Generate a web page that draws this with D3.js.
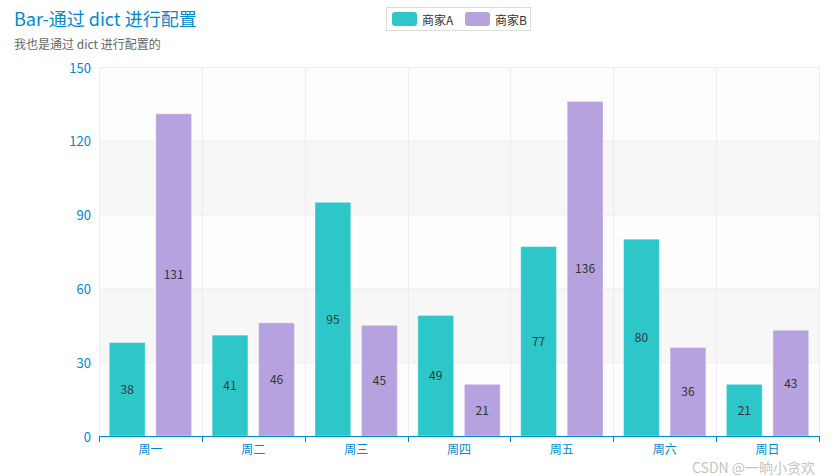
<!DOCTYPE html>
<html><head><meta charset="utf-8">
<script src="https://cdn.jsdelivr.net/npm/d3@7/dist/d3.min.js"></script>
<style>body{margin:0;background:#fff}svg{display:block}</style>
</head><body>
<svg id="c" width="835" height="476"></svg>
<script>
const categories = ["周一","周二","周三","周四","周五","周六","周日"];
const seriesNames = ["商家A","商家B"];
const valuesA = [38,41,95,49,77,80,21];
const valuesB = [131,46,45,21,136,36,43];
const yTicks = [0,30,60,90,120,150];
const colors = ["#2ec7c9","#b6a2de"];
const titleText = "Bar-通过 dict 进行配置";
const subtitleText = "我也是通过 dict 进行配置的";
const watermark = "CSDN @一晌小贪欢";

const font = "'Noto Sans CJK SC','Microsoft YaHei',sans-serif";
const svg = d3.select("#c").style("font-family", font);
const W = 835, H = 476;
const m = {l:99, r:16, t:67, b:40};
const x0 = d3.scaleBand().domain(categories).range([m.l, W - m.r]);
const y = d3.scaleLinear().domain([0,150]).range([H - m.b, m.t]);

// split areas
const bands = d3.pairs(yTicks);
svg.append("g").selectAll("rect").data(bands).join("rect")
  .attr("x", m.l).attr("width", W - m.r - m.l)
  .attr("y", d => y(d[1])).attr("height", d => y(d[0]) - y(d[1]))
  .attr("fill", (d,i) => i % 2 ? "rgba(200,200,200,0.15)" : "rgba(250,250,250,0.3)");

// horizontal grid
svg.append("g").selectAll("line").data(yTicks.slice(1)).join("line")
  .attr("x1", m.l).attr("x2", W - m.r)
  .attr("y1", d => y(d)+0.5).attr("y2", d => y(d)+0.5)
  .attr("stroke", "#eee");
// vertical grid
const bounds = categories.map(c => x0(c)).concat([W - m.r]);
svg.append("g").selectAll("line").data(bounds).join("line")
  .attr("x1", d => Math.round(d)+0.5).attr("x2", d => Math.round(d)+0.5)
  .attr("y1", m.t).attr("y2", H - m.b)
  .attr("stroke", "#eee");

// bars
const inner = x0.bandwidth()*0.8;
const off = x0.bandwidth()*0.1;
const x1 = d3.scaleBand().domain(seriesNames).range([off, off + inner]).paddingInner(0.3/1.3).paddingOuter(0);
const data = categories.map((c,i) => ({c, vals:[valuesA[i], valuesB[i]]}));
const g = svg.append("g");
data.forEach(d => {
  d.vals.forEach((v,j) => {
    const bx = x0(d.c) + x1(seriesNames[j]);
    g.append("rect").attr("x", bx).attr("width", x1.bandwidth())
      .attr("y", y(v)).attr("height", y(0) - y(v))
      .attr("fill", colors[j]).attr("stroke", "rgba(255,255,255,0.35)").attr("stroke-width", 1);
    g.append("text").attr("x", bx + x1.bandwidth()/2).attr("y", (y(v)+y(0))/2 - 1)
      .attr("text-anchor","middle").attr("dominant-baseline","central")
      .attr("font-size", 12).attr("fill", "#333").text(v);
  });
});

// x axis
const xa = svg.append("g").attr("transform", `translate(0,${y(0)})`);
xa.append("line").attr("x1", m.l).attr("x2", W - m.r).attr("y1",0.5).attr("y2",0.5).attr("stroke","#008acd");
xa.selectAll("line.t").data(bounds).join("line").attr("class","t")
  .attr("x1", d => Math.round(d)+0.5).attr("x2", d => Math.round(d)+0.5)
  .attr("y1",0).attr("y2",6).attr("stroke","#008acd");
xa.selectAll("text").data(categories).join("text")
  .attr("x", d => x0(d) + x0.bandwidth()/2).attr("y", 18)
  .attr("text-anchor","middle").attr("font-size",12).attr("fill","#008acd").text(d => d);

// y axis labels
svg.append("g").selectAll("text").data(yTicks).join("text")
  .attr("x", m.l - 8).attr("y", d => y(d)).attr("dominant-baseline","central")
  .attr("text-anchor","end").attr("font-size",13).attr("fill","#008acd").text(d => d);

// title
svg.append("text").attr("x", 14).attr("y", 26).attr("font-size", 18).attr("fill","#008acd").text(titleText);
svg.append("text").attr("x", 14).attr("y", 49).attr("font-size", 12).attr("fill","#666").text(subtitleText);

// legend
const lg = svg.append("g");
lg.append("rect").attr("x", 386.5).attr("y", 7.5).attr("width", 144).attr("height", 23)
  .attr("fill","none").attr("stroke","#ddd");
const lx = [392, 465];
seriesNames.forEach((n,i) => {
  lg.append("rect").attr("x", lx[i]).attr("y", 12).attr("width", 25).attr("height", 14).attr("rx", 3)
    .attr("fill", colors[i]);
  lg.append("text").attr("x", lx[i] + 30).attr("y", 19).attr("dominant-baseline","central")
    .attr("font-size", 12).attr("fill","#333").text(n);
});

// watermark
svg.append("text").attr("x", 692).attr("y", 467).attr("dominant-baseline","central")
  .attr("font-size", 14).attr("fill","#c4c4c4").text(watermark);
</script>
</body></html>
